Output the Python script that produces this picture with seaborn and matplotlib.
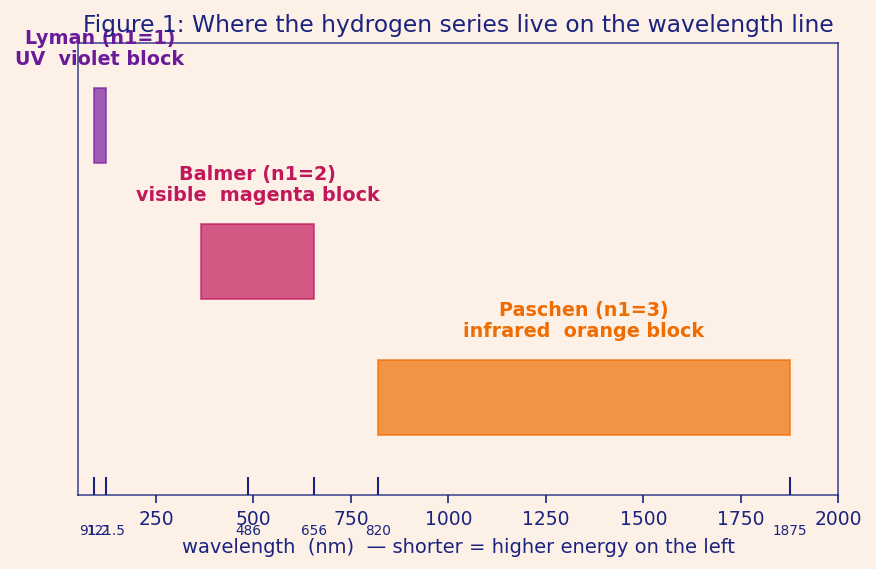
import numpy as np
import pandas as pd
import seaborn as sns
import matplotlib.pyplot as plt

# series data (nm)
series = ['Lyman', 'Balmer', 'Paschen']
starts = [91.2, 364.6, 820]
ends = [121.5, 656, 1875]
bar_colors = ['#7b1fa2', '#c2185b', '#ef6c00']
text_colors = ['#6a1b9a', '#c2185b', '#ef6c00']
labels = ['Lyman (n1=1)\nUV  violet block',
          'Balmer (n1=2)\nvisible  magenta block',
          'Paschen (n1=3)\ninfrared  orange block']
mark_vals = [91.2, 121.5, 486, 656, 820, 1875]
mark_labels = ['91.2', '121.5', '486', '656', '820', '1875']
major_ticks = [250, 500, 750, 1000, 1250, 1500, 1750, 2000]

bg = '#fdf1e7'
ink = '#1a237e'

sns.set_theme(style='white')
plt.rcParams['font.family'] = ['DejaVu Sans']

fig = plt.figure(figsize=(8.76, 5.69), dpi=100, facecolor=bg)
ax = fig.add_axes([0.089, 0.130, 0.868, 0.794])
ax.set_facecolor(bg)

df = pd.DataFrame({'series': series, 'start': starts, 'end': ends})
df['width'] = df['end'] - df['start']

sns.barplot(data=df, x='width', y='series', hue='series', palette=bar_colors,
            orient='h', width=0.55, alpha=0.7, saturation=1, linewidth=1.3,
            legend=False, ax=ax)

for patch, s, c in zip(ax.patches, df['start'], bar_colors):
    patch.set_x(s)
    patch.set_edgecolor(c)

for i, (s, e, lab, c) in enumerate(zip(starts, ends, labels, text_colors)):
    ax.text((s + e) / 2, i - 0.275 - 0.14, lab, ha='center', va='bottom',
            fontsize=13.8, fontweight='bold', color=c, clip_on=False,
            linespacing=1.15)

ax.set_xlim(50, 2000)
ax.set_ylim(2.717, -0.607)
ax.set_yticks([])
ax.set_ylabel('')

ax.set_xticks(major_ticks)
ax.set_xticklabels([str(t) for t in major_ticks])
ax.set_xticks(mark_vals, minor=True)
ax.set_xticklabels(mark_labels, minor=True)
ax.tick_params(axis='x', which='major', direction='out', length=6, width=1.2,
               color=ink, labelcolor=ink, labelsize=13.5, pad=5, bottom=True)
ax.tick_params(axis='x', which='minor', direction='in', length=13, width=1.5,
               color=ink, labelcolor=ink, labelsize=9.8, pad=21, bottom=True)

for sp in ax.spines.values():
    sp.set_visible(True)
    sp.set_color(ink)
    sp.set_alpha(0.8)
    sp.set_linewidth(1.2)

ax.set_xlabel('wavelength  (nm)  \u2014 shorter = higher energy on the left',
              fontsize=14, color=ink, labelpad=0)
ax.set_title('Figure 1: Where the hydrogen series live on the wavelength line',
             fontsize=16.8, color=ink, pad=8)

fig.savefig('out.png', dpi=100, facecolor=bg)
